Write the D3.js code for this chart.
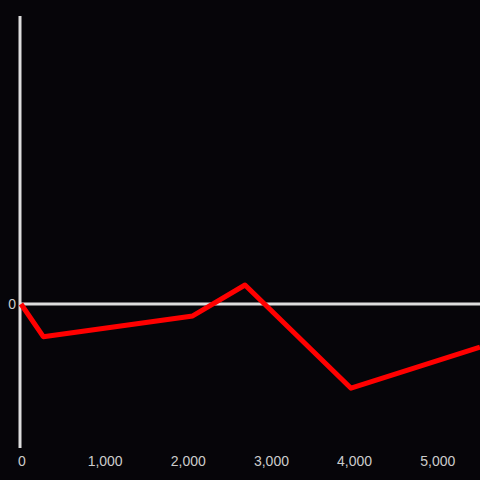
<!DOCTYPE html>
<html lang="en">
<head>
    <meta charset="UTF-8">
    <title>Chart</title>
    <script src="https://d3js.org/d3.v7.min.js"></script>
    <style>
        body { margin: 0; background: #060509; }
        text { font-family: "Liberation Sans", Arial, sans-serif; }
    </style>
</head>
<body>
    <div id="chart"></div>
    <script>
        const xValues = [0, 268, 2065, 2694, 3969, 5520];
        const yValues = [0, -22.7, -8.3, 13.2, -58.5, -30];
        const xTicks = [0, 1000, 2000, 3000, 4000, 5000];
        const yTicks = [0];

        const data = xValues.map((x, i) => ({ x: x, y: yValues[i] }));

        const width = 480, height = 480;

        const xScale = d3.scaleLinear().domain([0, 5520]).range([21, 480]);
        const yScale = d3.scaleLinear().domain([-100, 200]).range([448, 16]);

        const svg = d3.select("#chart")
            .append("svg")
            .attr("width", width)
            .attr("height", height)
            .style("display", "block")
            .style("background", "#060509");

        // y axis line
        svg.append("line")
            .attr("x1", 20).attr("x2", 20)
            .attr("y1", yScale(200)).attr("y2", yScale(-100))
            .attr("stroke", "#dddddd")
            .attr("stroke-width", 3);

        // zero line
        svg.append("line")
            .attr("x1", 20).attr("x2", width)
            .attr("y1", yScale(0)).attr("y2", yScale(0))
            .attr("stroke", "#dddddd")
            .attr("stroke-width", 3);

        // y tick labels
        svg.selectAll(".ylab")
            .data(yTicks)
            .enter().append("text")
            .attr("class", "ylab")
            .attr("x", 16)
            .attr("y", d => yScale(d))
            .attr("dy", "0.35em")
            .attr("text-anchor", "end")
            .attr("fill", "#cccccc")
            .style("font-size", "14px")
            .text(d => d3.format(",")(d));

        // x tick labels
        svg.selectAll(".xlab")
            .data(xTicks)
            .enter().append("text")
            .attr("class", "xlab")
            .attr("x", d => xScale(d) + 1)
            .attr("y", 461)
            .attr("dy", "0.35em")
            .attr("text-anchor", "middle")
            .attr("fill", "#cccccc")
            .style("font-size", "14px")
            .text(d => d3.format(",")(d));

        const line = d3.line()
            .x(d => xScale(d.x))
            .y(d => yScale(d.y));

        svg.append("path")
            .datum(data)
            .attr("fill", "none")
            .attr("stroke", "#ff0000")
            .attr("stroke-width", 5)
            .attr("stroke-linejoin", "round")
            .attr("d", line);
    </script>
</body>
</html>
